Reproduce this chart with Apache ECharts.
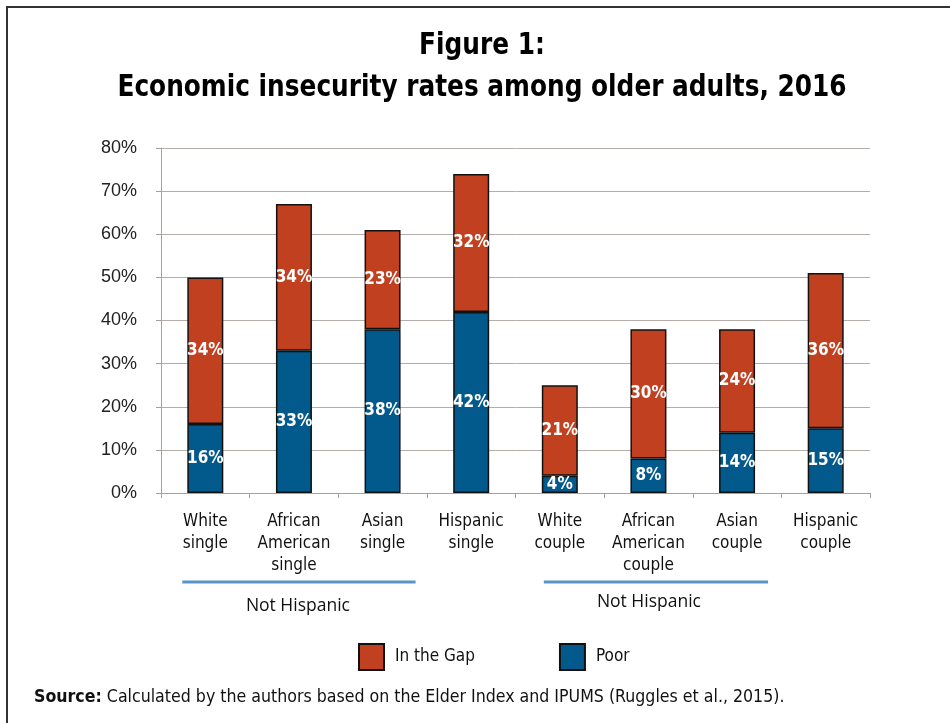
<!DOCTYPE html>
<html>
<head>
<meta charset="utf-8">
<script src="https://cdn.jsdelivr.net/npm/echarts@6/dist/echarts.min.js"></script>
<style>
  html, body { margin: 0; padding: 0; background: #fff; }
  #chart { width: 950px; height: 723px; }
</style>
</head>
<body>
<div id="chart"></div>
<script>
// Household groups on the category axis
const categories = [
  'White\nsingle', 'African\nAmerican\nsingle', 'Asian\nsingle', 'Hispanic\nsingle',
  'White\ncouple', 'African\nAmerican\ncouple', 'Asian\ncouple', 'Hispanic\ncouple'
];
// Share of older adults below the poverty line (%)
const poor = [16, 33, 38, 42, 4, 8, 14, 15];
// Share above poverty but below the Elder Index (%)
const inTheGap = [34, 34, 23, 32, 21, 30, 24, 36];
// Y axis range and step (%)
const yTicks = { min: 0, max: 80, step: 10 };

const condensed = '"DejaVu Sans Condensed", "Liberation Sans Narrow", sans-serif';
const ORANGE = '#C1401F';
const BLUE = '#02598B';

const chart = echarts.init(document.getElementById('chart'), null, { renderer: 'canvas' });

const barLabel = {
  show: true,
  position: 'inside',
  color: '#fff',
  fontFamily: condensed,
  fontWeight: 'bold',
  fontSize: 17,
  formatter: p => p.value + '%'
};

const option = {
  animation: false,
  backgroundColor: '#fff',
  grid: { left: 161, right: 80, top: 148, bottom: 230 },
  legend: {
    data: ['In the Gap', 'Poor'],
    left: 358,
    top: 643,
    padding: 0,
    icon: 'rect',
    itemWidth: 25,
    itemHeight: 26,
    itemGap: 84,
    textStyle: { fontFamily: condensed, fontSize: 17, color: '#111', padding: [0, 0, 0, 6] }
  },
  xAxis: {
    type: 'category',
    data: categories,
    axisLine: { lineStyle: { color: '#A8A09C', width: 1 } },
    axisTick: { show: true, length: 5, lineStyle: { color: '#A8A09C' } },
    axisLabel: {
      color: '#111',
      fontFamily: condensed,
      fontSize: 17,
      lineHeight: 22,
      margin: 18,
      interval: 0
    }
  },
  yAxis: {
    type: 'value',
    min: yTicks.min,
    max: yTicks.max,
    interval: yTicks.step,
    axisLine: { show: true, lineStyle: { color: '#A8A09C' } },
    axisTick: { show: true, length: 5, lineStyle: { color: '#A8A09C' } },
    splitLine: { lineStyle: { color: '#B5ADA9', width: 1 } },
    axisLabel: {
      color: '#222',
      fontFamily: '"Liberation Sans", Arial, sans-serif',
      fontSize: 18,
      margin: 24,
      formatter: v => v + '%'
    }
  },
  series: [
    {
      name: 'Poor',
      type: 'bar',
      stack: 'total',
      data: poor,
      barWidth: 36,
      itemStyle: { color: BLUE, borderColor: '#111', borderWidth: 1.5 },
      label: barLabel
    },
    {
      name: 'In the Gap',
      type: 'bar',
      stack: 'total',
      data: inTheGap,
      barWidth: 36,
      itemStyle: { color: ORANGE, borderColor: '#111', borderWidth: 1.5 },
      label: barLabel
    }
  ]
};

chart.setOption(option);

// Bracket lines under the non-Hispanic groups, placed from the category axis
const cx = i => chart.convertToPixel({ xAxisIndex: 0 }, i);
const bracket = (from, to, leftPad, rightPad, y, textShift, textY) => {
  const x1 = cx(from) - leftPad;
  const x2 = cx(to) + rightPad;
  return [
    {
      type: 'line',
      shape: { x1: x1, y1: y, x2: x2, y2: y },
      style: { stroke: '#5B93CB', lineWidth: 3 }
    },
    {
      type: 'text',
      x: (x1 + x2) / 2 + textShift,
      y: textY,
      style: {
        text: 'Not Hispanic',
        fill: '#111',
        font: '17.5px "Open Sans", "Noto Sans", sans-serif',
        textAlign: 'center',
        textVerticalAlign: 'middle'
      }
    }
  ];
};

const titleText = (text, y) => ({
  type: 'text',
  x: 482,
  y: y,
  scaleX: 0.89,
  style: {
    text: text,
    fill: '#000',
    font: 'bold 31px ' + condensed,
    textAlign: 'center',
    textVerticalAlign: 'middle'
  }
});

chart.setOption({
  graphic: [
    // frame
    {
      type: 'rect',
      shape: { x: 7, y: 7, width: 960, height: 740 },
      style: { fill: 'none', stroke: '#333', lineWidth: 2 }
    },
    titleText('Figure 1:', 46),
    titleText('Economic insecurity rates among older adults, 2016', 88),
    ...bracket(0, 2, 23, 33, 582, -1, 606),
    ...bracket(4, 6, 16, 31, 582, -7, 602),
    {
      type: 'text',
      x: 34,
      y: 697,
      style: {
        text: '{b|Source:} Calculated by the authors based on the Elder Index and IPUMS (Ruggles et al., 2015).',
        fill: '#111',
        font: '17.6px ' + condensed,
        textVerticalAlign: 'middle',
        rich: {
          b: { fontWeight: 'bold', fontFamily: condensed, fontSize: 17.6, fill: '#111' }
        }
      }
    }
  ]
});
</script>
</body>
</html>
